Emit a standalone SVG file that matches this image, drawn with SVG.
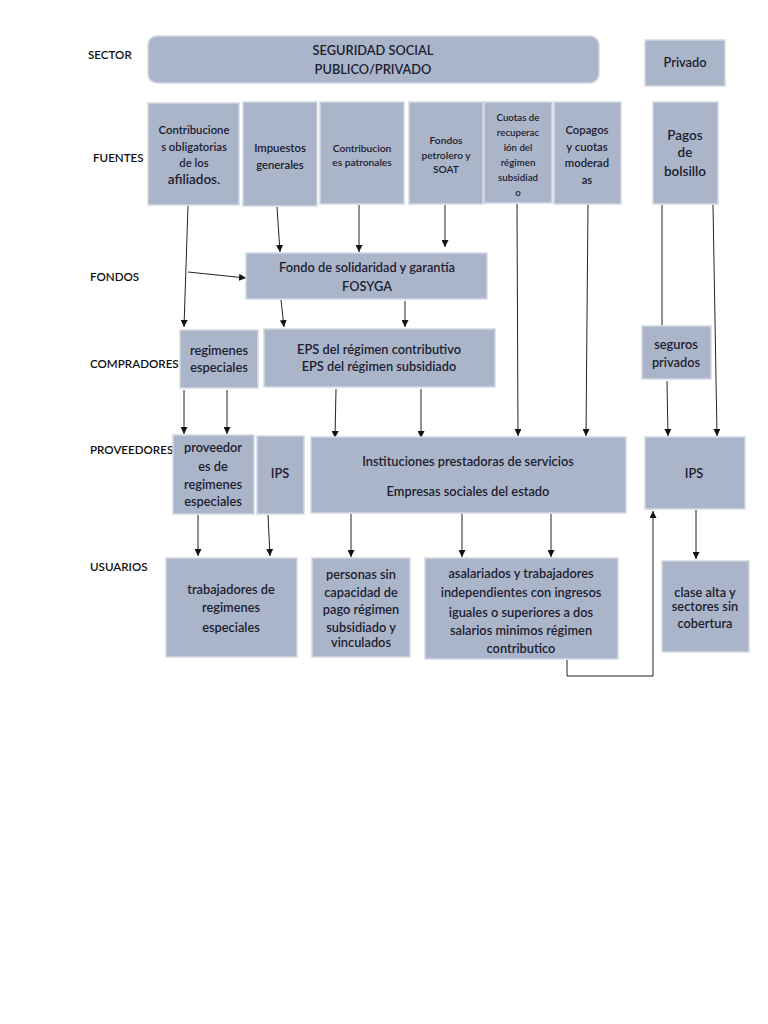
<svg xmlns="http://www.w3.org/2000/svg" width="768" height="1024" viewBox="0 0 768 1024">
<defs>
<marker id="ah" viewBox="0 0 10 10" refX="10" refY="5" markerWidth="7" markerHeight="7" markerUnits="userSpaceOnUse" orient="auto">
<path d="M0,0 L10,5 L0,10 z" fill="#111"/>
</marker>
<style>
.b{fill:#abb5c9;stroke:#d3d8e0;stroke-width:1.5}
.t{font-family:Lato,"Open Sans","Liberation Sans",sans-serif;font-size:12.8px;fill:#1c2030;text-anchor:middle;font-weight:600}
.s{font-size:10.2px}
.xs{font-size:9.7px}
.m{font-size:11.3px}
.l{font-size:13.5px}
.lab{font-family:Lato,"Open Sans","Liberation Sans",sans-serif;font-size:11.6px;fill:#111;font-weight:600}
.c{fill:none;stroke:#222;stroke-width:1}
</style>
</defs>
<rect width="768" height="1024" fill="#fff"/>

<g id="labels">
<text class="lab" x="88" y="59">SECTOR</text>
<text class="lab" x="93" y="162">FUENTES</text>
<text class="lab" x="90" y="281">FONDOS</text>
<text class="lab" x="90" y="368">COMPRADORES</text>
<text class="lab" x="90" y="454">PROVEEDORES</text>
<text class="lab" x="90" y="571">USUARIOS</text>
</g>

<g id="connectors">
<line class="c" x1="188" y1="206" x2="184" y2="327" marker-end="url(#ah)"/>
<line class="c" x1="188" y1="272" x2="246" y2="278" marker-end="url(#ah)"/>
<line class="c" x1="277" y1="207" x2="280" y2="252" marker-end="url(#ah)"/>
<line class="c" x1="359" y1="205" x2="359" y2="252" marker-end="url(#ah)"/>
<line class="c" x1="445" y1="205" x2="445" y2="247" marker-end="url(#ah)"/>
<line class="c" x1="281" y1="300" x2="284" y2="327" marker-end="url(#ah)"/>
<line class="c" x1="405" y1="301" x2="405" y2="327" marker-end="url(#ah)"/>
<line class="c" x1="517" y1="204" x2="518" y2="436" marker-end="url(#ah)"/>
<line class="c" x1="588" y1="204" x2="586" y2="436" marker-end="url(#ah)"/>
<line class="c" x1="662" y1="205" x2="662" y2="326"/>
<line class="c" x1="713" y1="205" x2="717" y2="436" marker-end="url(#ah)"/>
<line class="c" x1="667" y1="381" x2="668" y2="436" marker-end="url(#ah)"/>
<line class="c" x1="184" y1="390" x2="184" y2="434" marker-end="url(#ah)"/>
<line class="c" x1="227" y1="390" x2="227" y2="434" marker-end="url(#ah)"/>
<line class="c" x1="336" y1="389" x2="335" y2="438" marker-end="url(#ah)"/>
<line class="c" x1="421" y1="389" x2="421" y2="438" marker-end="url(#ah)"/>
<line class="c" x1="198" y1="515" x2="198" y2="556" marker-end="url(#ah)"/>
<line class="c" x1="268" y1="515" x2="270" y2="556" marker-end="url(#ah)"/>
<line class="c" x1="351" y1="514" x2="351" y2="557" marker-end="url(#ah)"/>
<line class="c" x1="462" y1="514" x2="462" y2="557" marker-end="url(#ah)"/>
<line class="c" x1="551" y1="514" x2="551" y2="557" marker-end="url(#ah)"/>
<line class="c" x1="696" y1="510" x2="696" y2="559" marker-end="url(#ah)"/>
<polyline class="c" points="567,660 567,676 653,676 653,511" marker-end="url(#ah)"/>
</g>

<g id="n-seguridad">
<rect class="b" x="148" y="36" width="451" height="47" rx="9"/>
<text class="t" x="373" y="55">SEGURIDAD SOCIAL</text>
<text class="t" x="373" y="74">PUBLICO/PRIVADO</text>
</g>
<g id="n-privado">
<rect class="b" x="645" y="40" width="80" height="46"/>
<text class="t" x="685" y="67">Privado</text>
</g>

<g id="n-contribuciones">
<rect class="b" x="148" y="103" width="91" height="102"/>
<text class="t m" x="194" y="134">Contribucione</text>
<text class="t m" x="194" y="151">s obligatorias</text>
<text class="t m" x="194" y="167">de los</text>
<text class="t l" x="194" y="184">afiliados.</text>
</g>
<g id="n-impuestos">
<rect class="b" x="243" y="102" width="74" height="104"/>
<text class="t m" x="280" y="152">Impuestos</text>
<text class="t m" x="280" y="169">generales</text>
</g>
<g id="n-patronales">
<rect class="b" x="320" y="102" width="84" height="102"/>
<text class="t s" x="362" y="152">Contribucion</text>
<text class="t s" x="362" y="166">es patronales</text>
</g>
<g id="n-petrolero">
<rect class="b" x="409" y="102" width="74" height="102"/>
<text class="t s" x="446" y="144">Fondos</text>
<text class="t s" x="446" y="159">petrolero y</text>
<text class="t s" x="446" y="173">SOAT</text>
</g>
<g id="n-cuotas">
<rect class="b" x="484" y="102" width="68" height="101"/>
<text class="t xs" x="518" y="121">Cuotas de</text>
<text class="t xs" x="518" y="136">recuperac</text>
<text class="t xs" x="518" y="151">ión del</text>
<text class="t xs" x="518" y="166">régimen</text>
<text class="t xs" x="518" y="181">subsidiad</text>
<text class="t xs" x="518" y="196">o</text>
</g>
<g id="n-copagos">
<rect class="b" x="554" y="102" width="67" height="102"/>
<text class="t m" x="587" y="134">Copagos</text>
<text class="t m" x="587" y="151">y cuotas</text>
<text class="t m" x="587" y="167">moderad</text>
<text class="t m" x="587" y="184">as</text>
</g>
<g id="n-bolsillo">
<rect class="b" x="653" y="102" width="65" height="102"/>
<text class="t l" x="685" y="140">Pagos</text>
<text class="t l" x="685" y="157">de</text>
<text class="t l" x="685" y="176">bolsillo</text>
</g>

<g id="n-fosyga">
<rect class="b" x="246" y="253" width="241" height="46"/>
<text class="t" x="367" y="272">Fondo de solidaridad y garantía</text>
<text class="t" x="367" y="291">FOSYGA</text>
</g>

<g id="n-regimenes">
<rect class="b" x="180" y="330" width="78" height="58"/>
<text class="t" x="219" y="355">regimenes</text>
<text class="t" x="219" y="372">especiales</text>
</g>
<g id="n-eps">
<rect class="b" x="264" y="329" width="231" height="58"/>
<text class="t" x="379" y="354">EPS del régimen contributivo</text>
<text class="t" x="379" y="371">EPS del régimen subsidiado</text>
</g>
<g id="n-seguros">
<rect class="b" x="642" y="326" width="69" height="53"/>
<text class="t" x="676" y="349">seguros</text>
<text class="t" x="676" y="367">privados</text>
</g>

<g id="n-proveedores">
<rect class="b" x="173" y="435" width="81" height="79"/>
<text class="t" x="213" y="452">proveedor</text>
<text class="t" x="213" y="471">es de</text>
<text class="t" x="213" y="489">regimenes</text>
<text class="t" x="213" y="506">especiales</text>
</g>
<g id="n-ips1">
<rect class="b" x="257" y="436" width="47" height="78"/>
<text class="t" x="280" y="478">IPS</text>
</g>
<g id="n-instituciones">
<rect class="b" x="311" y="437" width="315" height="76"/>
<text class="t" x="468" y="466">Instituciones prestadoras de servicios</text>
<text class="t" x="468" y="496">Empresas sociales del estado</text>
</g>
<g id="n-ips2">
<rect class="b" x="645" y="437" width="100" height="72"/>
<text class="t" x="694" y="478">IPS</text>
</g>

<g id="n-trabajadores">
<rect class="b" x="166" y="558" width="131" height="99"/>
<text class="t" x="231" y="594">trabajadores de</text>
<text class="t" x="231" y="612">regimenes</text>
<text class="t" x="231" y="632">especiales</text>
</g>
<g id="n-personas">
<rect class="b" x="312" y="558" width="98" height="99"/>
<text class="t" x="361" y="579">personas sin</text>
<text class="t" x="361" y="597">capacidad de</text>
<text class="t" x="361" y="614">pago régimen</text>
<text class="t" x="361" y="632">subsidiado y</text>
<text class="t" x="361" y="647">vinculados</text>
</g>
<g id="n-asalariados">
<rect class="b" x="425" y="558" width="193" height="101"/>
<text class="t" x="521" y="578">asalariados y trabajadores</text>
<text class="t" x="521" y="597">independientes con ingresos</text>
<text class="t" x="521" y="617">iguales o superiores a dos</text>
<text class="t" x="521" y="635">salarios minimos régimen</text>
<text class="t" x="521" y="653">contributico</text>
</g>
<g id="n-clase">
<rect class="b" x="662" y="561" width="87" height="91"/>
<text class="t" x="705" y="597">clase alta y</text>
<text class="t" x="705" y="611">sectores sin</text>
<text class="t" x="705" y="628">cobertura</text>
</g>
</svg>
